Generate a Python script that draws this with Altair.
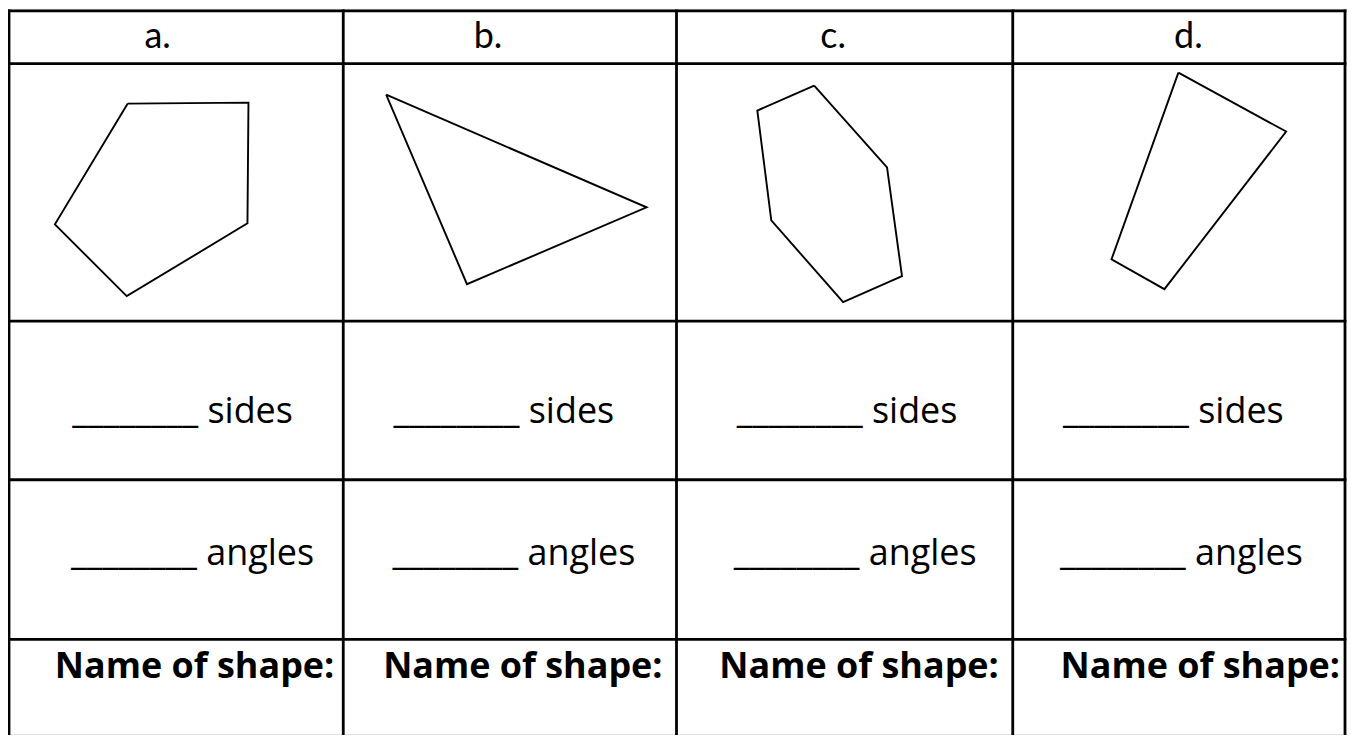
import altair as alt
import pandas as pd

# ---- table grid (reference pixel coordinates) ----
col_lines_x = [6, 341, 675, 1012, 1345]
row_lines_y = [8, 61, 319, 478, 638]
table_top, table_bottom = 8, 745
table_left, table_right = 6, 1345

# ---- column headers ----
headers = ["a.", "b.", "c.", "d."]
header_x = [155, 486, 832, 1188]
header_y = 45

# ---- row texts ----
sides_text = "________ sides"
sides_x = [180, 502, 846, 1173]
sides_y = 421

angles_text = "________ angles"
angles_x = [190, 512, 854, 1181]
angles_y = 563

name_text = "Name of shape:"
name_x = [192, 521, 858, 1200]
name_y = 677

# ---- polygons (vertices, reference pixels) ----
shape_a_x = [125, 246, 245, 124, 52]
shape_a_y = [101, 100, 221, 294, 222]
shape_b_x = [384, 645, 465]
shape_b_y = [92, 205, 282]
shape_c_x = [813, 756, 770, 842, 901, 886]
shape_c_y = [83, 108, 218, 300, 274, 165]
shape_d_x = [1178, 1286, 1164, 1111]
shape_d_y = [70, 129, 287, 257]

# ---- build tables ----
grid_rows = []
for x in col_lines_x:
    grid_rows.append({"x": x, "x2": x, "y": table_top, "y2": table_bottom})
for y in row_lines_y:
    grid_rows.append({"x": table_left, "x2": table_right, "y": y, "y2": y})
grid_df = pd.DataFrame(grid_rows)

poly_rows = []
for name, xs_, ys_ in [("a", shape_a_x, shape_a_y), ("b", shape_b_x, shape_b_y),
                       ("c", shape_c_x, shape_c_y), ("d", shape_d_x, shape_d_y)]:
    pts = list(zip(xs_, ys_)) + [(xs_[0], ys_[0])]
    for i, (px, py) in enumerate(pts):
        poly_rows.append({"shape": name, "i": i, "x": px, "y": py})
poly_df = pd.DataFrame(poly_rows)

head_df = pd.DataFrame({"x": header_x, "y": [header_y] * 4, "t": headers})
sides_df = pd.DataFrame({"x": sides_x, "y": [sides_y] * 4, "t": [sides_text] * 4})
angles_df = pd.DataFrame({"x": angles_x, "y": [angles_y] * 4, "t": [angles_text] * 4})
name_df = pd.DataFrame({"x": name_x, "y": [name_y] * 4, "t": [name_text] * 4})

W, H = 1342, 727
xs = alt.Scale(domain=[5, 5 + W])
ys = alt.Scale(domain=[6, 6 + H], reverse=True)

def X(f="x"):
    return alt.X(f"{f}:Q", scale=xs, axis=None)

def Y(f="y"):
    return alt.Y(f"{f}:Q", scale=ys, axis=None)

grid = alt.Chart(grid_df).mark_rule(color="black", strokeWidth=2.8, strokeCap="square").encode(
    x=X(), y=Y(), x2="x2:Q", y2="y2:Q"
)

polys = alt.Chart(poly_df).mark_line(color="black", strokeWidth=1.9, strokeJoin="miter").encode(
    x=X(), y=Y(), detail="shape:N", order="i:Q"
)

head = alt.Chart(head_df).mark_text(
    font="Lato", fontSize=36, align="center", baseline="alphabetic", color="black"
).encode(x=X(), y=Y(), text="t:N")

sides = alt.Chart(sides_df).mark_text(
    font="Open Sans", fontSize=36, align="center", baseline="alphabetic", color="black"
).encode(x=X(), y=Y(), text="t:N")

angles = alt.Chart(angles_df).mark_text(
    font="Open Sans", fontSize=36, align="center", baseline="alphabetic", color="black"
).encode(x=X(), y=Y(), text="t:N")

names = alt.Chart(name_df).mark_text(
    font="Open Sans", fontSize=36, fontWeight="bold", align="center", baseline="alphabetic", color="black"
).encode(x=X(), y=Y(), text="t:N")

chart = alt.layer(grid, polys, head, sides, angles, names).properties(
    width=W, height=H, padding=0, autosize=alt.AutoSizeParams(type="none")
).configure_view(stroke=None).configure(background="white")

chart.save("out.html", embed_options={"renderer": "svg", "actions": False})
